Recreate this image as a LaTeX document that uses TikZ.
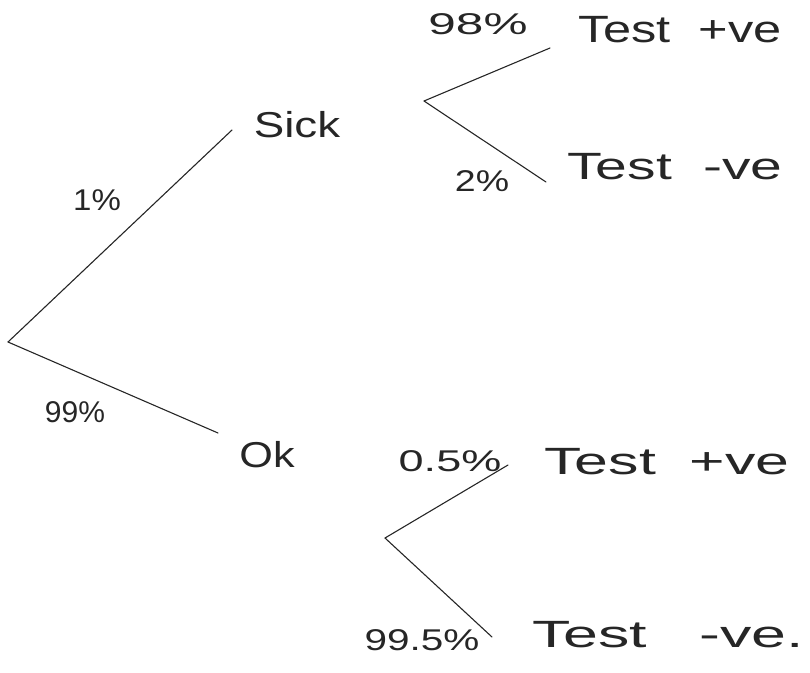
\documentclass[tikz,border=0pt]{standalone}
\usepackage{graphicx}
\usepackage{fontspec}
\setmainfont{Liberation Sans}
\newcommand{\hstretch}[2]{\scalebox{#1}[1]{#2}}
\begin{document}
\begin{tikzpicture}[x=1pt,y=-1pt,
  branch/.style={line width=1.1pt, draw=black!85, line cap=round},
  lbl/.style={font=\fontsize{36}{38}\selectfont, inner sep=0pt, text=black!85},
  pct/.style={font=\fontsize{30}{32}\selectfont, inner sep=0pt, text=black!85},
  outc/.style={font=\fontsize{38}{40}\selectfont, inner sep=0pt, text=black!85}]
\useasboundingbox (0,0) rectangle (810,672);
% coordinates
\coordinate (root) at (8,342);
\coordinate (sickend) at (232,130);
\coordinate (okend) at (218,433);
\coordinate (sfork) at (424,101);
\coordinate (sup) at (550,48);
\coordinate (sdown) at (546,182);
\coordinate (ofork) at (385,538);
\coordinate (oup) at (508,465);
\coordinate (odown) at (492,637);
% nodes
\node[lbl] (sick) at (297,125) {\hstretch{1.27}{Sick}};
\node[lbl] (ok) at (267,455) {\hstretch{1.2}{Ok}};
\node[pct] (p1) at (97,200) {\hstretch{1.1}{1\%}};
\node[pct] (p99) at (75,412) {99\%};
\node[pct] (p98) at (478,24) {\hstretch{1.65}{98\%}};
\node[pct] (p2) at (482,181) {\hstretch{1.25}{2\%}};
\node[pct] (p05) at (450,461) {\hstretch{1.5}{0.5\%}};
\node[pct] (p995) at (422,640) {\hstretch{1.35}{99.5\%}};
\node[outc] (t1) at (680,30) {\hstretch{1.33}{Test \;+ve}};
\node[outc] (t2) at (675,167) {\hstretch{1.5}{Test \;-ve}};
\node[outc] (t3) at (667,462) {\hstretch{1.6}{Test \;+ve}};
\node[outc] (t4) at (668,635) {\hstretch{1.65}{Test \;\;-ve.}};
% branches
\draw[branch] (root) -- (sickend);
\draw[branch] (root) -- (okend);
\draw[branch] (sfork) -- (sup);
\draw[branch] (sfork) -- (sdown);
\draw[branch] (ofork) -- (oup);
\draw[branch] (ofork) -- (odown);
\end{tikzpicture}
\end{document}
